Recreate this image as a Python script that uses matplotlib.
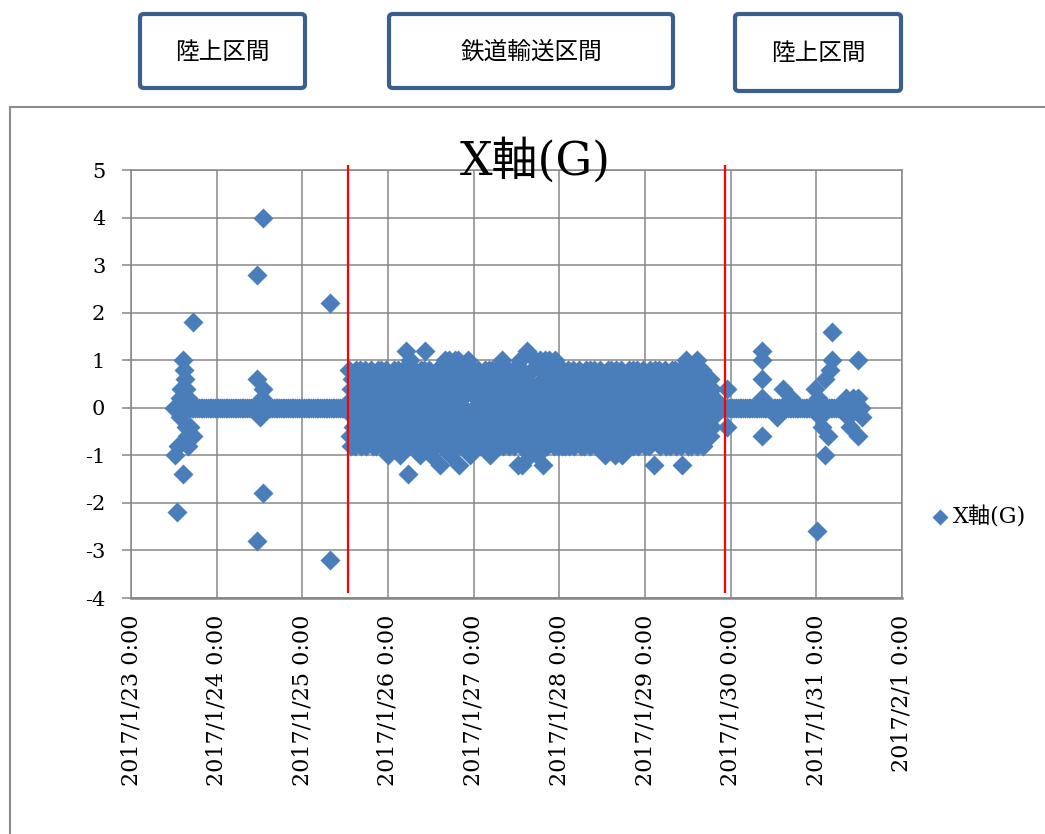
import numpy as np
import pandas as pd
import matplotlib
matplotlib.use('Agg')
import matplotlib.pyplot as plt
from matplotlib.patches import Rectangle, FancyBboxPatch
from matplotlib.ticker import FuncFormatter

plt.rcParams['font.family'] = ['DejaVu Serif', 'Noto Sans CJK JP']
plt.rcParams['axes.unicode_minus'] = False

# 区間ラベル
section_labels = ['陸上区間', '鉄道輸送区間', '陸上区間']
# 区間の切り替え時刻 (赤線)
switch_times = ['2017-01-25 12:50', '2017-01-29 22:20']

# 陸上区間で静止中の 0G 読み (30分毎)
zero_spans = [('2017-01-23 12:00', '2017-01-25 12:30'),
              ('2017-01-29 20:30', '2017-01-31 12:30')]

# 陸上区間のイベント: 2017/1/23 0:00 からの経過時間[h] と X軸[G]
t_origin = '2017-01-23 00:00'
land_hours = [12.3, 12.3, 12.9, 13.2, 13.7, 13.7, 13.9, 14.6, 14.6, 14.8,
              15.1, 15.4, 15.4, 15.8, 16.0, 16.0, 16.5, 17.4, 17.4,
              35.3, 35.3, 35.3, 36.1, 36.6, 37.0, 37.0, 37.0,
              55.7, 55.7,
              166.9, 166.9, 176.8, 176.8, 176.8, 176.8, 176.8, 181.0, 182.6, 185.0,
              191.6, 192.2, 192.6, 193.0, 193.6, 194.4, 194.4, 195.4, 195.8, 196.4, 196.4,
              200.3, 200.8, 201.5, 202.2, 203.6, 203.6, 203.6, 204.7]
land_vals = [-1.0, 0.0, -2.2, -0.8, 0.2, -0.2, 0.4, 1.0, -1.4, 0.8,
             0.6, 0.4, -0.4, -0.6, 0.2, -0.8, -0.4, 1.8, -0.6,
             2.8, -2.8, 0.6, -0.2, 0.2, 4.0, 0.4, -1.8,
             2.2, -3.2,
             0.4, -0.4, 1.2, 1.0, 0.6, 0.2, -0.6, -0.2, 0.4, 0.2,
             0.4, -2.6, 0.2, -0.2, -0.4, -1.0, 0.6, -0.6, 0.8, 1.0, 1.6,
             0.2, -0.2, -0.4, 0.2, 1.0, -0.6, 0.2, -0.2]

# 鉄道輸送区間: 2017/1/25 13:00 から 10分毎, 単位 0.1G (1行 = 4時間)
rail_start = '2017-01-25 13:00'
rail_vals = [
    0, 8, -6, 4, -8, 2, 6, -4, -2, 6, -8, 2, -4, 8, 0, -6, 4, -2, -4, 8, -8, 2, 6, -2,
    0, -6, 4, 8, -2, -8, 4, 0, -6, 6, 2, -4, 0, 8, -6, 4, -8, 2, 6, -4, -2, 6, -8, 2,
    -4, 8, 0, -6, 4, -2, -4, 8, -8, 2, 6, -2, 0, -6, 4, 8, -2, -8, -10, 0, -6, 6, 2, -4,
    6, -8, 2, -4, 8, 0, -6, 4, -2, 0, 8, -6, 4, -8, -10, 6, -4, -2, -4, 8, -8, 2, 6, -2,
    12, -6, 4, -14, -2, -8, 4, 10, -6, 6, 2, -4, 0, 8, -6, 4, -8, 2, 6, -4, -2, 6, -8, 2,
    -10, 8, 0, -6, 4, -2, -4, 8, -8, 12, 6, -2, 0, -6, 4, 8, -2, -8, -10, 0, -6, 6, 2, -4,
    6, -8, 2, -4, 8, 0, -6, 4, -2, -12, 8, -6, 4, -8, 2, 6, -4, -2, 10, 8, -8, 2, 6, -2,
    10, -6, -10, 8, -2, -8, 4, 0, -6, 6, 10, -4, 0, 8, -6, 10, -8, 2, -12, -4, -2, 6, -8, 2,
    -4, 8, 0, -6, 4, -2, -4, 8, -8, 10, 6, -2, -10, -6, 4, 8, -2, -8, 4, 0, -6, 6, 2, -4,
    0, 8, -6, 4, -8, 2, 6, -4, -2, 6, -8, 2, -4, 8, 0, -6, 4, -2, -4, 8, -8, -10, 6, -2,
    8, -2, -8, 4, 0, -6, 6, 2, -4, 0, 8, -6, 4, -8, 2, 6, -4, -2, 10, -8, 2, -4, 8, 0,
    -6, 4, -2, -4, 8, -8, 2, 6, -2, 0, -6, 4, 8, -2, -8, 4, 0, -6, 6, 2, -4, -12, 8, -6,
    10, -8, 2, -12, 8, 0, -6, 4, -2, 6, -4, -8, 12, -6, 4, -8, 2, -10, -4, -2, 8, 0, -6, 4,
    -2, 10, -8, 2, -4, -10, 0, -6, 4, 10, -4, 8, -8, 2, 6, -12, 0, -6, 10, 8, -2, -8, 4, 0,
    10, -6, 6, 2, -4, 0, 8, -6, 4, -8, 2, 10, -4, -2, 6, -8, 2, -4, 8, 0, -6, 4, -2, -8,
    8, -4, 2, -8, 6, 0, -6, 4, -2, 8, -8, 2, -4, 6, 0, -6, 4, 8, -2, -8, 4, 0, -6, 6,
    2, -4, 0, 8, -6, 4, -8, 2, 6, -4, -2, 6, -8, 2, -4, 8, 0, -6, 4, -2, -4, 8, -8, 2,
    6, -2, 0, -6, 4, 8, -2, -8, 4, 0, -6, 6, 2, -4, 0, 8, -6, 4, -8, 2, 6, -4, -2, -10,
    -8, 2, -4, 8, 0, -6, 4, -2, -4, 8, -8, 2, 6, -2, 0, -6, -10, 8, -2, -8, 4, 0, -6, 6,
    2, -4, 8, -10, -6, 4, -8, 2, 6, -4, -2, 6, -8, 2, -4, 8, 0, -6, 4, -2, -4, 8, -8, 2,
    6, -2, 0, -6, 4, 8, -2, -8, 4, 0, -6, 6, 2, -4, 0, 8, -6, 4, -8, 2, 6, -4, -2, 6,
    -8, 2, -4, 8, 0, -6, 4, -2, -4, -12, 8, 2, 6, -2, 0, -6, 4, 8, -2, -8, 4, 0, -6, 6,
    2, -4, 0, 8, -6, 4, -8, 2, 6, -4, -2, 6, -8, 2, -4, 8, 0, -6, 4, -2, -4, 8, -8, 2,
    6, -2, 0, -6, 4, 8, -2, -8, 4, -12, -6, 6, 2, -4, 0, 10, -6, 4, -8, 2, 6, -4, -2, 8,
    -8, 2, -4, 8, 0, -6, 4, -2, -4, 10, -8, 2, 6, -2, 0, -6, 4, 8, -2, -8, 4, 0, -6, 6,
    2, -4, 6, -6, 0, 4, -2, 6, -6, 2, -4, 4, 0, -2, 2,
]

# 時系列をまとめる
t0 = pd.Timestamp(t_origin)
zero_t = [pd.date_range(a, b, freq='30min') for a, b in zero_spans]
zero_t = zero_t[0].append(zero_t[1])
land_t = t0 + pd.to_timedelta(land_hours, unit='h')
rail_t = pd.date_range(rail_start, periods=len(rail_vals), freq='10min')

times = zero_t.append(land_t).append(rail_t)
vals = np.concatenate([np.zeros(len(zero_t)), land_vals, np.array(rail_vals) / 10])

W, H = 1045, 834
fig = plt.figure(figsize=(W / 100, H / 100), dpi=100)


def fx(x):
    return x / W


def fy(y):
    return 1 - y / H


def date_label(x, pos):
    d = matplotlib.dates.num2date(x)
    return f'{d.year}/{d.month}/{d.day} {d.hour}:{d.minute:02d}'


ax = fig.add_axes([fx(131), fy(598), fx(902) - fx(131), fy(170) - fy(598)])

ax.scatter(times, vals, marker='D', s=104, color='#4A7EBB', linewidths=0,
           zorder=3, label='X軸(G)')

for t in switch_times:
    ax.vlines(pd.Timestamp(t), -3.9, 5.1, color='red', lw=1.6, zorder=4, clip_on=False)

days = pd.date_range('2017-01-23', '2017-02-01', freq='D')
ax.set_xlim(days[0], days[-1])
ax.set_xticks(days)
ax.xaxis.set_major_formatter(FuncFormatter(date_label))
ax.set_ylim(-4, 5)
ax.set_yticks(range(-4, 6))

ax.set_axisbelow(True)
ax.grid(True, color='#878787', lw=1.1)
for s in ax.spines.values():
    s.set_color('#878787')
    s.set_linewidth(1.1)
ax.spines['bottom'].set_linewidth(1.8)
ax.tick_params(axis='y', length=6.5, width=1.1, color='#878787', pad=12, labelsize=15)
ax.tick_params(axis='x', length=0, pad=12, labelsize=16, labelrotation=90)

# タイトルと凡例
fig.text(fx(535), fy(175), 'X軸(G)', ha='center', va='baseline', fontsize=33)
fig.legend(loc='center left', bbox_to_anchor=(fx(922), fy(517)), frameon=False,
           fontsize=16, handlelength=0.8, handletextpad=0.2, markerscale=0.8,
           borderaxespad=0)

# グラフエリアの枠
fig.add_artist(Rectangle((fx(10), -0.05), 1.0, fy(107) + 0.05, transform=fig.transFigure,
                         fill=False, edgecolor='#8C8C8C', lw=1.5))

# 上部の区間ボックス
boxes = [(140, 305, 14, 88), (389, 673, 14, 88), (735, 901, 14, 91)]
for (x1, x2, y1, y2), lab in zip(boxes, section_labels):
    fig.add_artist(FancyBboxPatch((fx(x1), fy(y2)), fx(x2) - fx(x1), fy(y1) - fy(y2),
                                  boxstyle='round,pad=0,rounding_size=0.004',
                                  transform=fig.transFigure, fill=False,
                                  edgecolor='#3C5E8C', lw=3))
    fig.text(fx((x1 + x2) / 2), fy((y1 + y2) / 2 + 1), lab, ha='center', va='center',
             fontsize=17, family=['Noto Sans CJK JP'])

fig.savefig('out.png', dpi=100)
